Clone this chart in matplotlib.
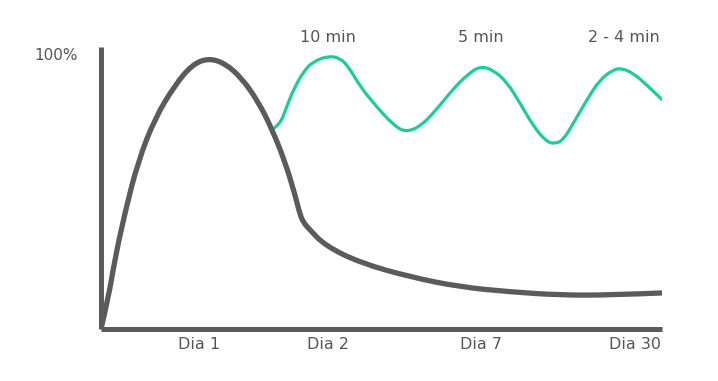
import matplotlib.pyplot as plt
from matplotlib.path import Path
from matplotlib.patches import PathPatch

# positions on a 0-100 time scale, retention in %
gray_x = [0, 1.3, 2.5, 4.3, 6.6, 9.6, 13.2, 16.2, 19.1, 22.1, 25.1, 28.0, 30.4, 32.8,
          34.6, 35.5, 36.1, 37.0, 39.9, 46.2, 55.1, 64.0, 72.9, 81.8, 90.7, 100]
gray_y = [0, 11.3, 26.0, 43.2, 61.7, 77.7, 90.0, 97.4, 99.9, 98.0, 92.5, 83.9, 74.1, 61.7,
          49.4, 42.0, 39.3, 37.1, 30.8, 24.4, 19.2, 15.5, 13.7, 12.5, 12.5, 13.3]

green_x = [30.4, 31.9, 33.1, 34.3, 36.1, 37.8, 40.5, 42.6, 44.1, 46.2, 49.1, 52.1, 54.2,
           56.9, 59.8, 62.8, 65.2, 67.6, 69.9, 72.3, 74.7, 77.1, 79.4, 80.9, 82.4, 84.2,
           86.6, 88.9, 91.3, 92.8, 94.9, 97.3, 100]
green_y = [73.4, 75.3, 82.0, 88.2, 95.0, 98.6, 100.7, 99.9, 96.8, 89.4, 82.0, 75.3, 72.6,
           74.6, 80.9, 88.6, 93.6, 97.0, 95.5, 91.2, 83.3, 74.7, 69.1, 68.3, 69.7, 75.9,
           84.5, 91.9, 95.6, 96.2, 94.3, 90.0, 84.6]

day_pos = [17.5, 40.5, 67.7, 95.2]
day_labels = ['Dia 1', 'Dia 2', 'Dia 7', 'Dia 30']
review_pos = [40.5, 67.7, 93.2]
review_labels = ['10 min', '5 min', '2 - 4 min']

dark = '#5b5b5b'
green = '#1ccc9a'
txt = '#555555'


def smooth_path(xs, ys):
    # quadratic bezier through midpoints, read points act as control points
    pts = list(zip(xs, ys))
    verts = [pts[0]]
    codes = [Path.MOVETO]
    for i in range(1, len(pts) - 1):
        mid = ((pts[i][0] + pts[i + 1][0]) / 2, (pts[i][1] + pts[i + 1][1]) / 2)
        if i == len(pts) - 2:
            mid = pts[-1]
        verts += [pts[i], mid]
        codes += [Path.CURVE3, Path.CURVE3]
    return Path(verts, codes)


fig = plt.figure(figsize=(7.18, 3.81), dpi=100)
ax = fig.add_axes([101/718, 52/381, 561/718, 282/381])

ax.add_patch(PathPatch(smooth_path(green_x, green_y), fill=False, edgecolor=green,
                       lw=2.3, capstyle='round', zorder=2))
ax.add_patch(PathPatch(smooth_path(gray_x, gray_y), fill=False, edgecolor=dark,
                       lw=3.8, capstyle='butt', zorder=3))

ax.set_xlim(0, 100)
ax.set_ylim(0, 104)

for s in ['top', 'right']:
    ax.spines[s].set_visible(False)
for s in ['left', 'bottom']:
    ax.spines[s].set_color(dark)
    ax.spines[s].set_linewidth(3.6)
    ax.spines[s].set_capstyle('butt')

ax.set_xticks(day_pos)
ax.set_xticklabels(day_labels)
ax.set_yticks([101.5])
ax.set_yticklabels(['100%'])
ax.tick_params(axis='x', length=0, pad=6, labelsize=11.5, labelcolor=txt)
ax.tick_params(axis='y', length=0, pad=17, labelsize=11, labelcolor=txt)

for p, lab in zip(review_pos, review_labels):
    ax.text(p, 107.4, lab, ha='center', va='center', fontsize=11.5, color=txt, clip_on=False)

fig.savefig('out.png', dpi=100)
